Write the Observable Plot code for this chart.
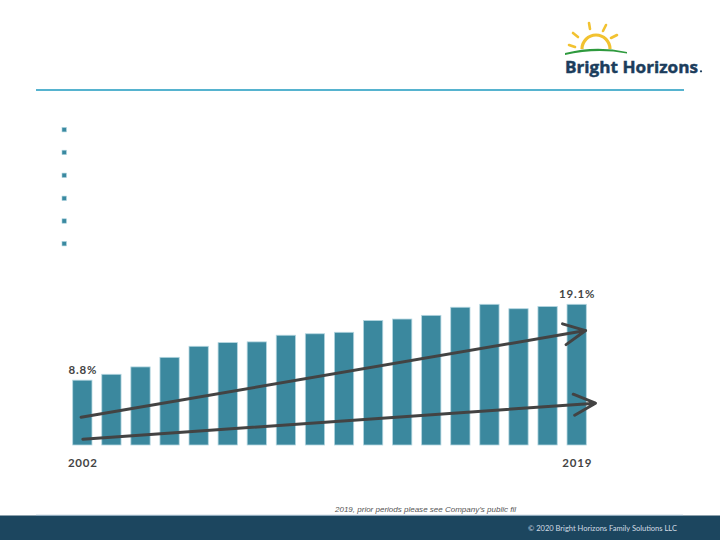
<!DOCTYPE html>
<html>
<head>
<meta charset="utf-8">
<script src="https://cdn.jsdelivr.net/npm/d3@7"></script>
<script src="https://cdn.jsdelivr.net/npm/@observablehq/plot@0.6"></script>
<style>
  html, body { margin: 0; padding: 0; background: #fff; }
  #page { position: relative; width: 720px; height: 540px; overflow: hidden; background: #fff; }
  #deco { position: absolute; left: 0; top: 0; }
  #chart { position: absolute; left: 0; top: 270px; }
</style>
</head>
<body>
<div id="page">
  <svg id="deco" width="720" height="540" xmlns="http://www.w3.org/2000/svg">
    <!-- logo: sun rays -->
    <g stroke="#f2c230" stroke-width="2.6" stroke-linecap="round">
      <line x1="569" y1="45" x2="575" y2="47"/>
      <line x1="573" y1="33" x2="578" y2="37"/>
      <line x1="589" y1="23" x2="590" y2="29"/>
      <line x1="606" y1="25" x2="603" y2="31"/>
      <line x1="617" y1="35" x2="611" y2="38"/>
    </g>
    <path d="M582,49 A14,14 0 0 1 610,49" fill="none" stroke="#f2c230" stroke-width="3.2"/>
    <path d="M565,53 Q596,45 627,52 L627,53.5 Q596,48 565,55 Z" fill="#2f9a3e"/>
    <text x="565" y="72.5" font-family="'Open Sans', sans-serif" font-weight="700" font-size="16.8" fill="#1c3d5c" stroke="#1c3d5c" stroke-width="0.45" textLength="133" lengthAdjust="spacingAndGlyphs">Bright Horizons</text>
    <circle cx="701" cy="71.3" r="1.1" fill="#1c3d5c"/>
    <!-- header rule -->
    <rect x="36" y="89" width="648" height="2" fill="#56b3cf"/>
    <!-- bullets -->
    <g fill="#3a89a0" stroke="#a9d1dd" stroke-width="0.6">
      <rect x="62" y="127.5" width="4.4" height="4.4"/>
      <rect x="62" y="150.2" width="4.4" height="4.4"/>
      <rect x="62" y="173.1" width="4.4" height="4.4"/>
      <rect x="62" y="196.1" width="4.4" height="4.4"/>
      <rect x="62" y="218.8" width="4.4" height="4.4"/>
      <rect x="62" y="241.5" width="4.4" height="4.4"/>
    </g>
    <!-- footnote -->
    <text x="335" y="512.3" font-family="'Liberation Sans', Arial, sans-serif" font-style="italic" font-size="7.4" fill="#555" textLength="181" lengthAdjust="spacingAndGlyphs">2019, prior periods please see Company’s public fil</text>
    <!-- footer -->
    <rect x="0" y="515.5" width="720" height="24.5" fill="#1c465f"/>
    <rect x="36" y="514.8" width="647" height="1.2" fill="#8ea9bc"/>
    <text x="528" y="531" font-family="Lato, sans-serif" font-size="8.4" fill="#d3dde5" textLength="149" lengthAdjust="spacingAndGlyphs">© 2020 Bright Horizons Family Solutions LLC</text>
  </svg>
  <div id="chart"></div>
</div>
<script>
// ---- data ----
const years = [2002, 2003, 2004, 2005, 2006, 2007, 2008, 2009, 2010, 2011,
               2012, 2013, 2014, 2015, 2016, 2017, 2018, 2019];
const values = [8.8, 9.6, 10.6, 11.9, 13.4, 13.9, 14.0, 14.9, 15.1, 15.3,
                16.9, 17.1, 17.6, 18.7, 19.1, 18.5, 18.8, 19.1];
// trend arrows (in year / value units)
const arrowX1 = [2002.44, 2002.5];
const arrowX2 = [2019.79, 2020.13];
const arrowY1 = [3.84, 0.86];
const arrowY2 = [15.6, 5.74];

const data = years.map((year, i) => ({year, value: values[i]}));
const ends = [data[0], data[data.length - 1]];
const arrows = arrowX1.map((x1, i) => ({x1, x2: arrowX2[i], y1: arrowY1[i], y2: arrowY2[i]}));

const chart = Plot.plot({
  width: 720,
  height: 210,
  marginTop: 34.3,
  marginBottom: 35,
  marginLeft: 67.8,
  marginRight: 128.8,
  x: {domain: [2002, 2020], axis: null},
  y: {domain: [0, 19.1], axis: null},
  style: {background: "transparent", fontFamily: "Lato, sans-serif", overflow: "visible"},
  marks: [
    Plot.rectY(data, {
      x1: d => d.year, x2: d => d.year + 1, y: "value",
      insetLeft: 4.9, insetRight: 4.9,
      fill: "#3b889e", stroke: "#b4d6e0", strokeWidth: 0.8
    }),
    Plot.arrow(arrows, {
      x1: "x1", y1: "y1", x2: "x2", y2: "y2",
      stroke: "#434343", strokeWidth: 3, headLength: 12, headAngle: 52
    }),
    Plot.text(ends, {
      x: d => d.year + 0.5, y: "value",
      text: d => d.value.toFixed(1) + "%",
      dy: -10.5, fontSize: 11.5, fontWeight: "bold", fill: "#444"
    }),
    Plot.text(ends, {
      x: d => d.year + 0.5, y: 0,
      text: d => String(d.year),
      dy: 17.7, fontSize: 11.5, fontWeight: "bold", fill: "#444"
    })
  ]
});
chart.style.letterSpacing = "0.8px";
document.getElementById("chart").appendChild(chart);
</script>
</body>
</html>
